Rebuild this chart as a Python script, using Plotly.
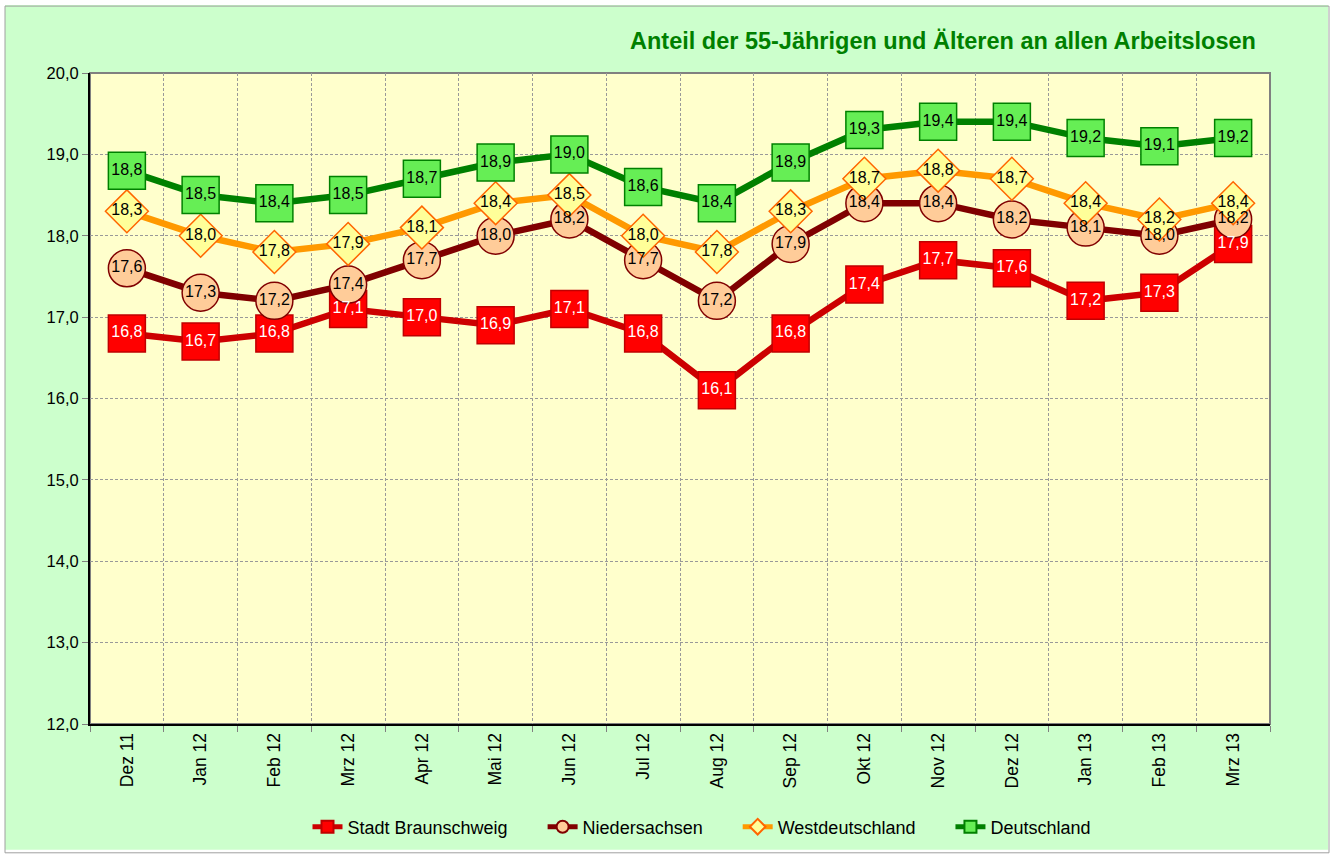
import plotly.graph_objects as go

categories = ["Dez 11", "Jan 12", "Feb 12", "Mrz 12", "Apr 12", "Mai 12", "Jun 12", "Jul 12",
              "Aug 12", "Sep 12", "Okt 12", "Nov 12", "Dez 12", "Jan 13", "Feb 13", "Mrz 13"]
braunschweig = [16.8, 16.7, 16.8, 17.1, 17.0, 16.9, 17.1, 16.8, 16.1, 16.8, 17.4, 17.7, 17.6, 17.2, 17.3, 17.9]
niedersachsen = [17.6, 17.3, 17.2, 17.4, 17.7, 18.0, 18.2, 17.7, 17.2, 17.9, 18.4, 18.4, 18.2, 18.1, 18.0, 18.2]
westdeutschland = [18.3, 18.0, 17.8, 17.9, 18.1, 18.4, 18.5, 18.0, 17.8, 18.3, 18.7, 18.8, 18.7, 18.4, 18.2, 18.4]
deutschland = [18.8, 18.5, 18.4, 18.5, 18.7, 18.9, 19.0, 18.6, 18.4, 18.9, 19.3, 19.4, 19.4, 19.2, 19.1, 19.2]
y_ticks = [12, 13, 14, 15, 16, 17, 18, 19, 20]
title = "Anteil der 55-Jährigen und Älteren an allen Arbeitslosen"

FONT = "Liberation Sans, Arial, sans-serif"
x = list(range(len(categories)))
PAD = "\u00a0" * 6

series = [
    ("Stadt Braunschweig", braunschweig, "#CC0000", "square", 37, "#FF0000", "#C00000", "white"),
    ("Niedersachsen", niedersachsen, "#800000", "circle", 37, "#FFCC99", "#800000", "black"),
    ("Westdeutschland", westdeutschland, "#FF9900", "diamond", 33, "#FFFF99", "#FF6600", "black"),
    ("Deutschland", deutschland, "#008000", "square", 37, "#66EE55", "#008000", "black"),
]

fig = go.Figure()
for i, (name, vals, lc, sym, size, fill, border, tc) in enumerate(series):
    fig.add_trace(go.Scatter(
        x=x, y=vals, name=name + (PAD if i < len(series) - 1 else ""), mode="lines+markers",
        line=dict(color=lc, width=6.5),
        marker=dict(symbol=sym, size=size, color=fill, line=dict(color=border, width=1.5)),
        hoverinfo="skip",
    ))
for name, vals, lc, sym, size, fill, border, tc in series:
    fig.add_trace(go.Scatter(
        x=x, y=vals, mode="text", showlegend=False,
        text=[f"{v:.1f}".replace(".", ",") for v in vals],
        textposition="middle center",
        textfont=dict(family=FONT, size=16, color=tc),
        hoverinfo="skip",
    ))

L, R, T, B = 90, 63, 73, 131
W, H = 1333, 856
pw, ph = W - L - R, H - T - B

def px(v):
    return (v - L) / pw

def py(v):
    return (H - B - v) / ph

fig.update_layout(
    width=W, height=H,
    margin=dict(l=L, r=R, t=T, b=B, pad=0),
    paper_bgcolor="#CCFFCC",
    plot_bgcolor="#FFFFCC",
    separators=",.",
    font=dict(family=FONT, size=16, color="black"),
    showlegend=True,
    legend=dict(orientation="h", x=px(702), y=py(827), xanchor="center", yanchor="middle",
                font=dict(family=FONT, size=18, color="black"), itemsizing="constant",
                bgcolor="rgba(0,0,0,0)", traceorder="normal"),
    xaxis=dict(
        range=[-0.5, len(categories) - 0.5],
        tickmode="array", tickvals=x, ticktext=categories, tickangle=-90,
        ticks="", showgrid=False, zeroline=False,
        showline=True, linecolor="black", linewidth=2,
        tickfont=dict(family=FONT, size=17.5, color="black"),
        minor=dict(tickmode="linear", tick0=0.5, dtick=1, ticks="outside", ticklen=6,
                   tickcolor="#808080", showgrid=True, gridcolor="#999999", griddash="3px,2px",
                   gridwidth=1),
    ),
    yaxis=dict(
        range=[12, 20], tickmode="array", tickvals=y_ticks, tickformat=".1f",
        ticks="outside", ticklen=6, tickcolor="#808080",
        showgrid=True, gridcolor="#999999", griddash="3px,2px", gridwidth=1,
        zeroline=False, showline=True, linecolor="black", linewidth=2,
        tickfont=dict(family=FONT, size=16.5, color="black"),
    ),
    annotations=[dict(
        text="<b>" + title + "</b>", xref="paper", yref="paper",
        x=px(1258), y=py(41), xanchor="right", yanchor="middle", showarrow=False,
        font=dict(family=FONT, size=23.5, color="#008000"),
    )],
    shapes=[
        dict(type="rect", xref="paper", yref="paper", x0=0, x1=1, y0=0, y1=1,
             line=dict(color="#808080", width=2), layer="below"),
        dict(type="rect", xref="paper", yref="paper", x0=px(0), x1=px(W), y0=py(H), y1=py(0),
             line=dict(color="white", width=10), fillcolor="rgba(0,0,0,0)", layer="above"),
        dict(type="rect", xref="paper", yref="paper", x0=px(5), x1=px(1329), y0=py(854), y1=py(6),
             line=dict(color="#A0A0A0", width=1), fillcolor="rgba(0,0,0,0)", layer="above"),
    ],
)

fig.write_html("out.html", config={"displayModeBar": False},
               post_script="document.body.style.margin='0px';document.body.style.overflow='hidden';")
